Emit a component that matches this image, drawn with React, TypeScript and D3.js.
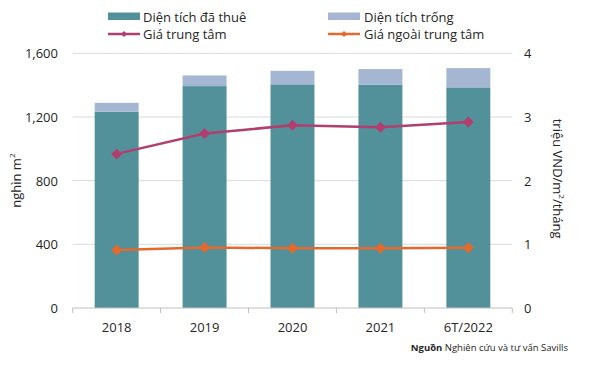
import React from 'react';
import * as d3 from 'd3';

// categories and series
const categories = ['2018', '2019', '2020', '2021', '6T/2022'];
const leasedArea = [1233, 1394, 1405, 1402, 1386];
const vacantArea = [56, 67, 85, 99, 121];
const centralPrice = [2.42, 2.74, 2.87, 2.84, 2.92];
const outerPrice = [0.91, 0.95, 0.94, 0.94, 0.945];
const leftTicks = [0, 400, 800, 1200, 1600];
const rightTicks = [0, 1, 2, 3, 4];

const FONT = '"Open Sans", sans-serif';
const TEAL = '#53919A';
const VACANT = '#A5B6D3';
const MAGENTA = '#B03F70';
const ORANGE = '#E3692C';
const GRID = '#D9D9D9';

const diamond = (cx: number, cy: number, r: number) =>
  `M${cx},${cy - r}L${cx + r},${cy}L${cx},${cy + r}L${cx - r},${cy}Z`;

const App = () => {
  const width = 600;
  const height = 369;
  const left = 72.7;
  const right = 512.3;
  const top = 53.3;
  const bottom = 308;

  const x = d3.scaleBand<string>()
    .domain(categories)
    .range([left, right])
    .paddingInner(0.5)
    .paddingOuter(0.25);

  const yLeft = d3.scaleLinear().domain([0, 1600]).range([bottom, top]);
  const yRight = d3.scaleLinear().domain([0, 4]).range([bottom, top]);

  const cx = (c: string) => (x(c) as number) + x.bandwidth() / 2;

  const priceLine = d3.line<number>()
    .x((_, i) => cx(categories[i]))
    .y(d => yRight(d));

  const step = x.step();
  const boundaries = d3.range(categories.length + 1).map(i => left + i * step);

  return (
    <svg width={width} height={height} style={{ position: 'absolute', left: 0, top: 0, background: '#fff' }}
      fontFamily={FONT}>
      {/* gridlines */}
      {leftTicks.filter(t => t > 0).map(t => (
        <line key={t} x1={left} x2={right} y1={yLeft(t)} y2={yLeft(t)} stroke={GRID} strokeWidth={1} />
      ))}

      {/* bars */}
      {categories.map((c, i) => (
        <g key={c}>
          <rect x={x(c)} width={x.bandwidth()} y={yLeft(leasedArea[i])}
            height={bottom - yLeft(leasedArea[i])} fill={TEAL} />
          <rect x={x(c)} width={x.bandwidth()} y={yLeft(leasedArea[i] + vacantArea[i])}
            height={yLeft(leasedArea[i]) - yLeft(leasedArea[i] + vacantArea[i])} fill={VACANT} />
        </g>
      ))}

      {/* x axis */}
      <line x1={left} x2={right} y1={bottom} y2={bottom} stroke="#BFBFBF" strokeWidth={1} />
      {boundaries.map((b, i) => (
        <line key={i} x1={b} x2={b} y1={bottom} y2={bottom + 5} stroke="#BFBFBF" strokeWidth={1} />
      ))}
      {categories.map(c => (
        <text key={c} x={cx(c)} y={327} textAnchor="middle" dominantBaseline="central"
          fontSize={13} fill="#262626">{c}</text>
      ))}

      {/* left ticks */}
      {leftTicks.map(t => (
        <text key={t} x={58} y={yLeft(t)} textAnchor="end" dominantBaseline="central"
          fontSize={13} fill="#262626">{d3.format(',')(t)}</text>
      ))}
      {/* right ticks */}
      {rightTicks.map(t => (
        <text key={t} x={524} y={yRight(t)} textAnchor="start" dominantBaseline="central"
          fontSize={13} fill="#262626">{t}</text>
      ))}

      {/* axis titles */}
      <text transform={`translate(16,${(top + bottom) / 2}) rotate(-90)`} textAnchor="middle"
        dominantBaseline="central" fontSize={13} fill="#262626">
        nghìn m<tspan fontSize={8} dy={-5}>2</tspan>
      </text>
      <text transform={`translate(558,${(top + bottom) / 2 - 2}) rotate(90)`} textAnchor="middle"
        dominantBaseline="central" fontSize={13} fill="#262626">
        triệu VND/m<tspan fontSize={8} dy={-5}>2</tspan><tspan dy={5}>/tháng</tspan>
      </text>

      {/* price lines */}
      <path d={priceLine(centralPrice) as string} fill="none" stroke={MAGENTA} strokeWidth={2.5} />
      {centralPrice.map((v, i) => (
        <path key={i} d={diamond(cx(categories[i]), yRight(v), 5.5)} fill={MAGENTA} />
      ))}
      <path d={priceLine(outerPrice) as string} fill="none" stroke={ORANGE} strokeWidth={2.5} />
      {outerPrice.map((v, i) => (
        <path key={i} d={diamond(cx(categories[i]), yRight(v), 5.5)} fill={ORANGE} />
      ))}

      {/* legend */}
      <rect x={108} y={12.5} width={32} height={7.5} fill={TEAL} />
      <text x={143} y={16.5} dominantBaseline="central" fontSize={13} fill="#262626">Diện tích đã thuê</text>
      <rect x={328} y={12.5} width={32} height={7.5} fill={VACANT} />
      <text x={364} y={16.5} dominantBaseline="central" fontSize={13} fill="#262626">Diện tích trống</text>

      <line x1={108} x2={140} y1={34} y2={34} stroke={MAGENTA} strokeWidth={2.5} />
      <path d={diamond(124, 34, 3)} fill={MAGENTA} />
      <text x={143} y={34} dominantBaseline="central" fontSize={13} fill="#262626">Giá trung tâm</text>
      <line x1={328} x2={360} y1={34} y2={34} stroke={ORANGE} strokeWidth={2.5} />
      <path d={diamond(344, 34, 3)} fill={ORANGE} />
      <text x={364} y={34} dominantBaseline="central" fontSize={13} fill="#262626">Giá ngoài trung tâm</text>

      {/* source */}
      <text x={568} y={347} textAnchor="end" dominantBaseline="central" fontSize={9.5} fill="#262626">
        <tspan fontWeight="bold">Nguồn</tspan> Nghiên cứu và tư vấn Savills
      </text>
    </svg>
  );
};

export default App;
